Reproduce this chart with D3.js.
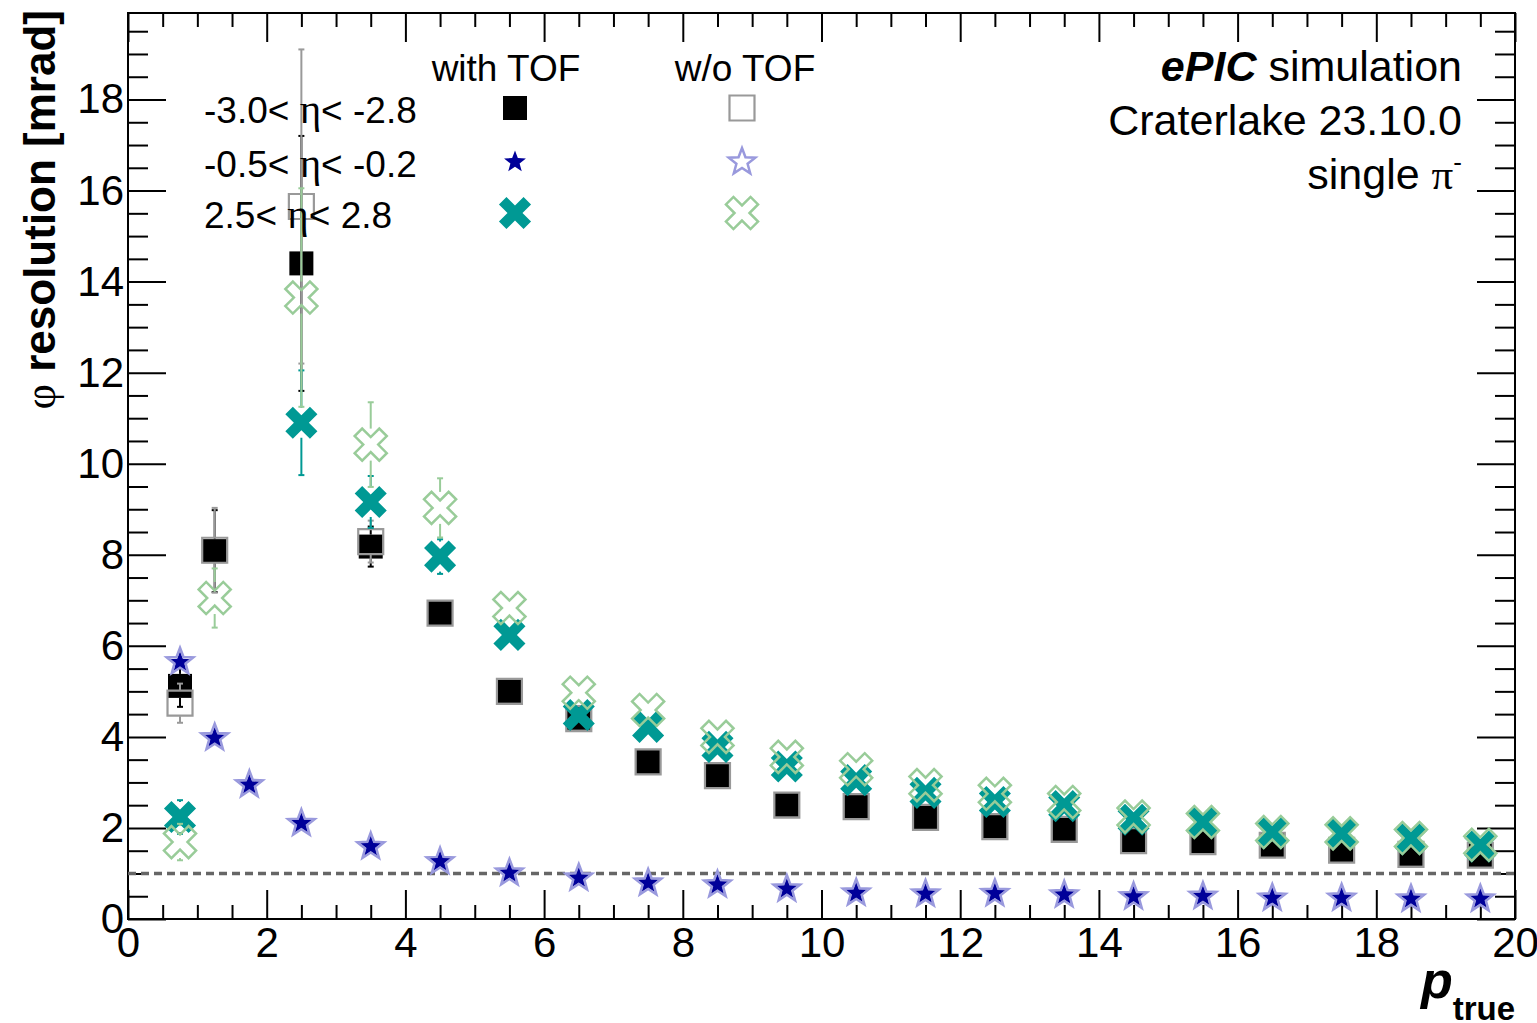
<!DOCTYPE html>
<html lang="en">
<head>
<meta charset="UTF-8">
<title>phi resolution</title>
<script src="https://d3js.org/d3.v7.min.js"></script>
<style>
  body { margin: 0; background: #fff; }
  text { font-family: "Liberation Sans", Arial, sans-serif; }
</style>
</head>
<body>
<div id="chart"></div>
<script>
// bin centres in p_true
var pBins = [0.75, 1.25, 1.75, 2.5, 3.5, 4.5, 5.5, 6.5, 7.5, 8.5, 9.5, 10.5, 11.5, 12.5, 13.5, 14.5, 15.5, 16.5, 17.5, 18.5, 19.5];

// -3.0 < eta < -2.8
var bwdTof    = [5.12, 8.08, null, 14.4, 8.18, 6.72, 5.01, 4.42, 3.45, 3.16, 2.51, 2.48, 2.24, 2.04, 1.98, 1.73, 1.71, 1.63, 1.52, 1.43, 1.41];
var bwdTofErr = [0.46, 0.9, null, 2.8, 0.44, 0.2, 0.12, 0.1, 0.08, 0.08, 0.06, 0.06, 0.05, 0.05, 0.05, 0.04, 0.04, 0.04, 0.04, 0.04, 0.04];
var bwdNo     = [4.74, 8.1, null, 15.65, 8.29, 6.72, 5.0, 4.4, 3.45, 3.15, 2.5, 2.47, 2.23, 2.03, 1.97, 1.72, 1.7, 1.62, 1.51, 1.42, 1.4];
var bwdNoErr  = [0.43, 0.93, null, 3.45, 0.46, 0.2, 0.12, 0.1, 0.08, 0.08, 0.06, 0.06, 0.05, 0.05, 0.05, 0.04, 0.04, 0.04, 0.04, 0.04, 0.04];

// -0.5 < eta < -0.2
var midTof    = [5.63, 3.97, 2.94, 2.1, 1.59, 1.26, 1.01, 0.9, 0.79, 0.75, 0.66, 0.57, 0.55, 0.56, 0.53, 0.49, 0.5, 0.46, 0.46, 0.44, 0.44];
var midTofErr = [0.15, 0.06, 0.05, 0.04, 0.03, 0.02, 0.02, 0.02, 0.02, 0.02, 0.02, 0.02, 0.02, 0.02, 0.02, 0.02, 0.02, 0.02, 0.02, 0.02, 0.02];
var midNo     = [5.65, 3.98, 2.95, 2.1, 1.59, 1.26, 1.01, 0.9, 0.79, 0.75, 0.66, 0.57, 0.55, 0.56, 0.53, 0.49, 0.5, 0.46, 0.46, 0.44, 0.44];
var midNoErr  = [0.15, 0.06, 0.05, 0.04, 0.03, 0.02, 0.02, 0.02, 0.02, 0.02, 0.02, 0.02, 0.02, 0.02, 0.02, 0.02, 0.02, 0.02, 0.02, 0.02, 0.02];

// 2.5 < eta < 2.8
var fwdTof    = [2.24, null, null, 10.9, 9.16, 7.96, 6.24, 4.48, 4.22, 3.78, 3.35, 3.05, 2.77, 2.57, 2.48, 2.18, 2.11, 1.88, 1.88, 1.75, 1.59];
var fwdTofErr = [0.37, null, null, 1.15, 0.57, 0.38, 0.2, 0.12, 0.1, 0.08, 0.07, 0.06, 0.05, 0.05, 0.05, 0.04, 0.04, 0.04, 0.04, 0.04, 0.04];
var fwdNo     = [1.69, 7.05, null, 13.65, 10.42, 9.03, 6.83, 4.97, 4.59, 4.0, 3.56, 3.29, 2.94, 2.75, 2.57, 2.25, 2.13, 1.91, 1.88, 1.78, 1.63];
var fwdNoErr  = [0.4, 0.65, null, 2.4, 0.93, 0.65, 0.25, 0.14, 0.1, 0.09, 0.08, 0.07, 0.06, 0.05, 0.05, 0.05, 0.04, 0.04, 0.04, 0.04, 0.04];

var etaLabels = ["-3.0< ", "-0.5< ", "2.5< "];
var etaUpper  = ["< -2.8", "< -0.2", "< 2.8"];
var xTicks = [0, 2, 4, 6, 8, 10, 12, 14, 16, 18, 20];
var yTicks = [0, 2, 4, 6, 8, 10, 12, 14, 16, 18];

var margin = {top: 13, right: 22, bottom: 104, left: 128},
    width = 1537 - margin.left - margin.right,
    height = 1023 - margin.top - margin.bottom;

var svg = d3.select("#chart")
  .append("svg")
    .attr("width", 1537)
    .attr("height", 1023);

var g = svg.append("g")
    .attr("transform", "translate(" + margin.left + "," + margin.top + ")");

var x = d3.scaleLinear().domain([0, 20]).range([0, width]);
var y = d3.scaleLinear().domain([0, 19.9]).range([height, 0]);

// marker shapes
function squarePath(s) {
  var h = s / 2;
  return "M" + (-h) + "," + (-h) + "H" + h + "V" + h + "H" + (-h) + "Z";
}
function starPath(R) {
  var r = R * 0.42, pts = [];
  for (var i = 0; i < 10; i++) {
    var a = -Math.PI / 2 + i * Math.PI / 5, rad = i % 2 ? r : R;
    pts.push([rad * Math.cos(a), rad * Math.sin(a)]);
  }
  return "M" + pts.join("L") + "Z";
}
function crossXPath(R, a) {
  // plus shape rotated by 45 degrees
  var p = [[a, a], [a, R], [-a, R], [-a, a], [-R, a], [-R, -a], [-a, -a], [-a, -R], [a, -R], [a, -a], [R, -a], [R, a]];
  var c = Math.SQRT1_2;
  p = p.map(function(q) { return [(q[0] - q[1]) * c, (q[0] + q[1]) * c]; });
  return "M" + p.join("L") + "Z";
}

var shapes = {
  sqFull:   {d: squarePath(24), fill: "#000", stroke: "none", sw: 0, half: 12},
  sqOpen:   {d: squarePath(25), fill: "none", stroke: "#999999", sw: 2.2, half: 13},
  starFull: {d: starPath(11.5), fill: "#000099", stroke: "none", sw: 0, half: 10},
  starOpen: {d: starPath(14), fill: "none", stroke: "#9999dd", sw: 2.5, half: 13},
  crFull:   {d: crossXPath(17.4, 5.3), fill: "#009994", stroke: "none", sw: 0, half: 15},
  crOpen:   {d: crossXPath(17.4, 5.3), fill: "none", stroke: "#99cc99", sw: 2.5, half: 16}
};

var series = [
  {vals: bwdTof, errs: bwdTofErr, m: shapes.sqFull,   col: "#000"},
  {vals: bwdNo,  errs: bwdNoErr,  m: shapes.sqOpen,   col: "#999999"},
  {vals: midTof, errs: midTofErr, m: shapes.starFull, col: "#000099"},
  {vals: midNo,  errs: midNoErr,  m: shapes.starOpen, col: "#9999dd"},
  {vals: fwdTof, errs: fwdTofErr, m: shapes.crFull,   col: "#009994"},
  {vals: fwdNo,  errs: fwdNoErr,  m: shapes.crOpen,   col: "#99cc99"}
];

// minor and major ticks on all four sides
function minorRange(step, max, major) {
  return d3.range(0, max + 1e-9, step).filter(function(v) { return Math.abs(v / major - Math.round(v / major)) > 1e-6; });
}
var xMinor = minorRange(0.5, 20, 2);
var yMinor = minorRange(0.5, 19.9, 2);

function styleAxis(sel) {
  sel.select(".domain").remove();
  sel.selectAll("line").attr("stroke-width", 2);
  sel.attr("font-size", 42).attr("font-family", '"Liberation Sans", Arial, sans-serif');
  sel.selectAll("text").attr("fill", "#000");
}

g.append("g")
  .attr("transform", "translate(0," + height + ")")
  .call(d3.axisBottom(x).tickValues(xTicks).tickSize(-29).tickPadding(8).tickFormat(d3.format("d")))
  .call(styleAxis);
g.append("g")
  .attr("transform", "translate(0," + height + ")")
  .call(d3.axisBottom(x).tickValues(xMinor).tickSize(-14).tickFormat(""))
  .call(styleAxis);
g.append("g")
  .call(d3.axisTop(x).tickValues(xTicks).tickSize(-29).tickFormat(""))
  .call(styleAxis);
g.append("g")
  .call(d3.axisTop(x).tickValues(xMinor).tickSize(-14).tickFormat(""))
  .call(styleAxis);

g.append("g")
  .call(d3.axisLeft(y).tickValues(yTicks).tickSize(-38).tickPadding(4).tickFormat(d3.format("d")))
  .call(styleAxis);
g.append("g")
  .call(d3.axisLeft(y).tickValues(yMinor).tickSize(-20).tickFormat(""))
  .call(styleAxis);
g.append("g")
  .attr("transform", "translate(" + width + ",0)")
  .call(d3.axisRight(y).tickValues(yTicks).tickSize(-38).tickFormat(""))
  .call(styleAxis);
g.append("g")
  .attr("transform", "translate(" + width + ",0)")
  .call(d3.axisRight(y).tickValues(yMinor).tickSize(-20).tickFormat(""))
  .call(styleAxis);

// frame
g.append("rect")
  .attr("width", width)
  .attr("height", height)
  .attr("fill", "none")
  .attr("stroke", "#000")
  .attr("stroke-width", 2);

// reference line at 1 mrad
g.append("line")
  .attr("x1", x(0)).attr("x2", x(20))
  .attr("y1", y(1)).attr("y2", y(1))
  .attr("stroke", "#666")
  .attr("stroke-width", 3.5)
  .attr("stroke-dasharray", "8,5");

// error bars + markers, one series after the other
series.forEach(function(s) {
  var pts = pBins.map(function(p, i) { return {p: p, v: s.vals[i], e: s.errs[i]}; })
                 .filter(function(d) { return d.v != null; });
  var eg = g.append("g").attr("stroke", s.col).attr("stroke-width", 2);
  pts.forEach(function(d) {
    var cx = x(d.p), cy = y(d.v), top = y(d.v + d.e), bot = y(d.v - d.e), h = s.m.half;
    if (cy - top > h) {
      eg.append("line").attr("x1", cx).attr("x2", cx).attr("y1", top).attr("y2", cy - h);
      eg.append("line").attr("x1", cx - 3).attr("x2", cx + 3).attr("y1", top).attr("y2", top);
    }
    if (bot - cy > h) {
      eg.append("line").attr("x1", cx).attr("x2", cx).attr("y1", cy + h).attr("y2", bot);
      eg.append("line").attr("x1", cx - 3).attr("x2", cx + 3).attr("y1", bot).attr("y2", bot);
    }
  });
  g.append("g").selectAll("path")
    .data(pts)
    .enter()
    .append("path")
      .attr("d", s.m.d)
      .attr("transform", function(d) { return "translate(" + x(d.p) + "," + y(d.v) + ")"; })
      .attr("fill", s.m.fill)
      .attr("stroke", s.m.stroke)
      .attr("stroke-width", s.m.sw);
});

// legend
var leg = svg.append("g").attr("font-size", 37);
leg.append("text").attr("x", 506).attr("y", 81).attr("text-anchor", "middle").text("with TOF");
leg.append("text").attr("x", 745).attr("y", 81).attr("text-anchor", "middle").text("w/o TOF");
var rowsY = [108, 162, 213];
var legMarks = [[shapes.sqFull, shapes.sqOpen], [shapes.starFull, shapes.starOpen], [shapes.crFull, shapes.crOpen]];
rowsY.forEach(function(ry, i) {
  var t = leg.append("text").attr("x", 204).attr("y", ry + 15);
  t.append("tspan").text(etaLabels[i]);
  t.append("tspan").attr("font-family", '"Liberation Serif", serif').attr("font-size", 41).text("\u03b7");
  t.append("tspan").text(etaUpper[i]);
  [515, 742].forEach(function(lx, j) {
    var m = legMarks[i][j];
    leg.append("path")
      .attr("d", m.d)
      .attr("transform", "translate(" + lx + "," + ry + ")")
      .attr("fill", m.fill)
      .attr("stroke", m.stroke)
      .attr("stroke-width", m.sw);
  });
});

// labels top right
var info = svg.append("g").attr("font-size", 43).attr("text-anchor", "end");
var t1 = info.append("text").attr("x", 1462).attr("y", 81);
t1.append("tspan").attr("font-weight", "bold").attr("font-style", "italic").text("ePIC");
t1.append("tspan").text(" simulation");
info.append("text").attr("x", 1462).attr("y", 135).text("Craterlake 23.10.0");
var t3 = info.append("text").attr("x", 1462).attr("y", 189);
t3.append("tspan").text("single ");
t3.append("tspan").attr("font-family", '"Liberation Serif", serif').text("\u03c0");
t3.append("tspan").attr("font-size", 26).attr("dy", -18).text("-");

// axis titles
var yt = svg.append("text")
  .attr("transform", "translate(55,10) rotate(-90)")
  .attr("text-anchor", "end")
  .attr("font-size", 44)
  .attr("font-weight", "bold");
yt.append("tspan").attr("font-family", '"Liberation Serif", serif').attr("font-weight", "normal").text("\u03c6");
yt.append("tspan").text(" resolution [mrad]");

var xt = svg.append("text")
  .attr("x", 1515)
  .attr("y", 998)
  .attr("text-anchor", "end")
  .attr("font-weight", "bold");
xt.append("tspan").attr("font-size", 52).attr("font-style", "italic").text("p");
xt.append("tspan").attr("font-size", 33).attr("dy", 22).text("true");
</script>
</body>
</html>
